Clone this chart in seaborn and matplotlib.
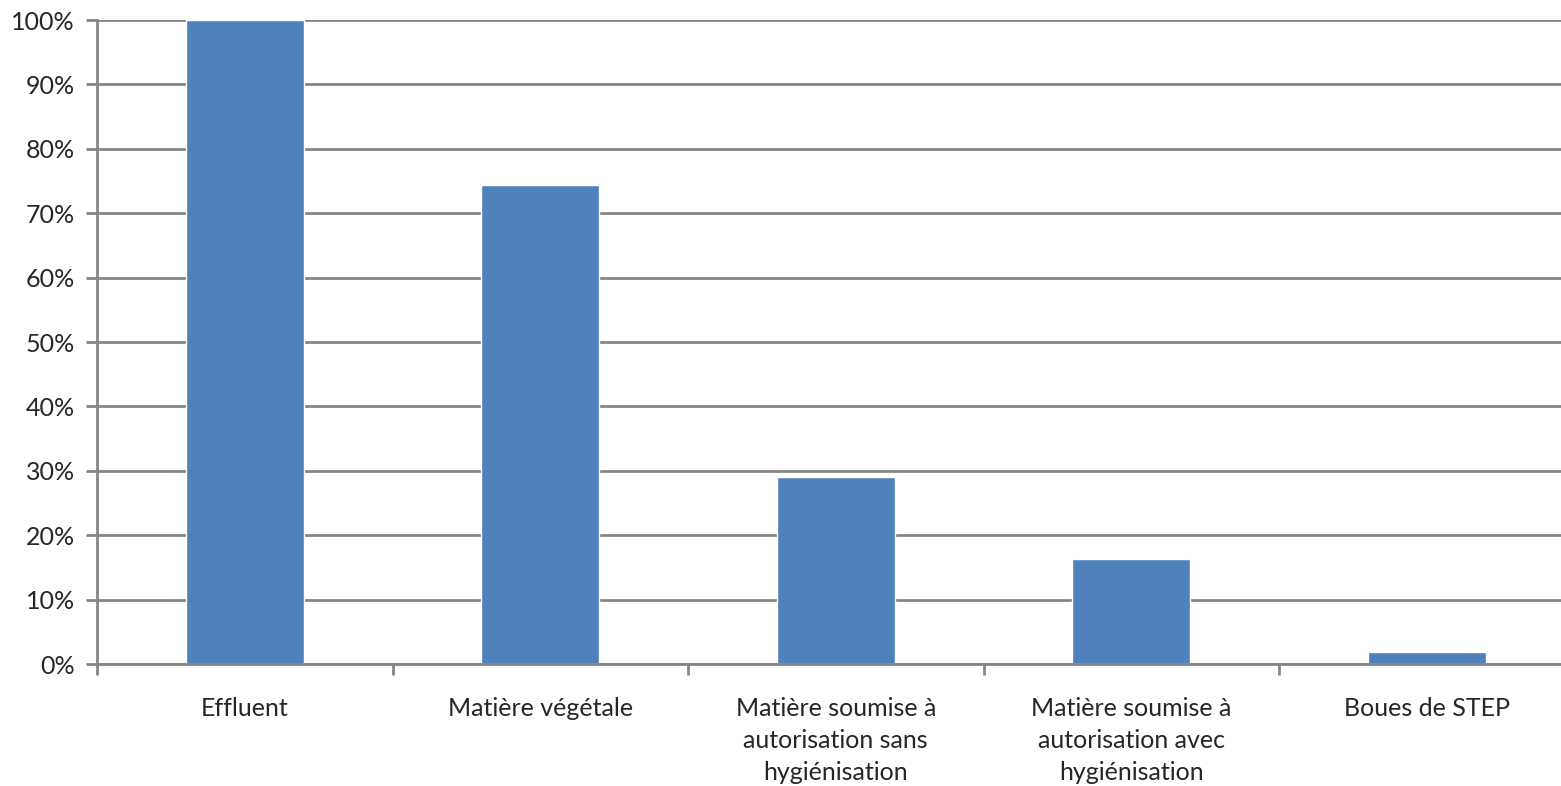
import matplotlib
matplotlib.use('Agg')
import matplotlib.pyplot as plt
import pandas as pd
import seaborn as sns
from matplotlib.ticker import FixedLocator, PercentFormatter

# Data
categories = ['Effluent', 'Matière végétale',
              'Matière soumise à\nautorisation sans\nhygiénisation',
              'Matière soumise à\nautorisation avec\nhygiénisation',
              'Boues de STEP']
values = [100, 74.4, 29.0, 16.3, 1.9]
yticks = [0, 10, 20, 30, 40, 50, 60, 70, 80, 90, 100]

df = pd.DataFrame({'cat': categories, 'value': values})

sns.set_style('white')
plt.rcParams['font.family'] = ['Lato', 'DejaVu Sans']

fig = plt.figure(figsize=(15.61, 7.86), dpi=100)
ax = fig.add_axes([97 / 1561, 1 - 664 / 786, 1464 / 1561, 644 / 786])

sns.barplot(data=df, x='cat', y='value', color='#4F81BD', saturation=1,
            width=0.40, ax=ax, zorder=3)

grid_col = '#868686'
ax.set_ylim(0, 100)
ax.set_xlim(-0.5, 4.454)
ax.set_yticks(yticks)
ax.yaxis.set_major_formatter(PercentFormatter(decimals=0))
ax.grid(axis='y', color=grid_col, linewidth=2, zorder=0)
ax.set_axisbelow(True)

for side in ['top', 'right']:
    ax.spines[side].set_visible(False)
for side in ['left', 'bottom']:
    ax.spines[side].set_color(grid_col)
    ax.spines[side].set_linewidth(2)
    ax.spines[side].set_zorder(4)

ax.tick_params(axis='y', which='major', length=8, width=2, color=grid_col,
               labelsize=18, pad=8, left=True)
ax.tick_params(axis='x', which='major', length=0, labelsize=18, pad=24)
ax.xaxis.set_minor_locator(FixedLocator([-0.5, 0.5, 1.5, 2.5, 3.5, 4.5]))
ax.tick_params(axis='x', which='minor', length=8, width=2, color=grid_col,
               bottom=True)
for lbl in ax.get_xticklabels():
    lbl.set_linespacing(1.47)
    lbl.set_verticalalignment('top')

ax.set_xlabel('')
ax.set_ylabel('')

fig.savefig('out.png', dpi=100)
